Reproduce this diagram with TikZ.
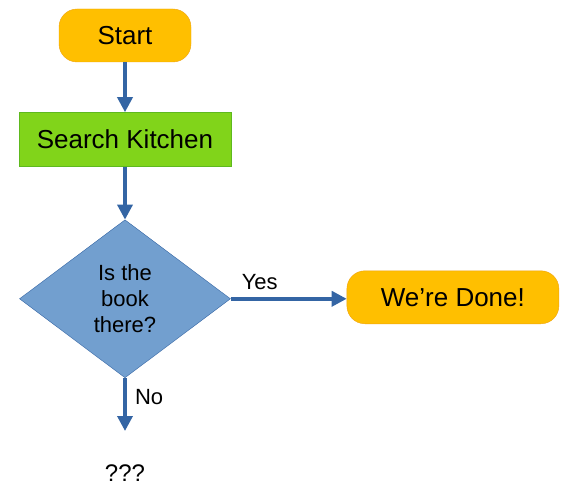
\documentclass[tikz,border=0pt]{standalone}
\usepackage{fontspec}
\setmainfont{Liberation Sans}
\usetikzlibrary{positioning}
\usetikzlibrary{shapes.geometric}
\usetikzlibrary{arrows.meta}

\definecolor{termfill}{HTML}{FFBF00}
\definecolor{termdraw}{HTML}{EFA30F}
\definecolor{procfill}{HTML}{81D41A}
\definecolor{procdraw}{HTML}{5EB91E}
\definecolor{decfill}{HTML}{729FCF}
\definecolor{flowblue}{HTML}{3465A4}

\begin{document}
\begin{tikzpicture}[
  x=1pt, y=1pt,
  % every node/.style={draw},
  terminal/.style={
    draw=termdraw,
    fill=termfill,
    rounded corners=18pt,
    minimum width=132pt,
    minimum height=53pt,
    font=\fontsize{26}{30}\selectfont
  },
  process/.style={
    draw=procdraw,
    fill=procfill,
    minimum width=212pt,
    minimum height=54pt,
    font=\fontsize{26}{30}\selectfont
  },
  decision/.style={
    diamond,
    draw=flowblue,
    fill=decfill,
    aspect=1,
    inner sep=0pt,
    minimum width=211pt,
    minimum height=158pt,
    align=center,
    font=\fontsize{22}{26}\selectfont
  },
  flow/.style={
    draw=flowblue,
    line width=3.5pt,
    -{Triangle[length=15pt,width=15pt]}
  },
  flowlabel/.style={font=\fontsize{22}{26}\selectfont}
]
\useasboundingbox (0,0) rectangle (568,-495);

% The flowchart
\node[terminal] (start) at (125,-35.5) {Start};
\node[process, below=50pt of start] (search) {Search Kitchen};
\node[decision, below=53pt of search] (check) {Is the\\book\\there?};
\node[terminal, minimum width=212pt, right=116pt of check, yshift=1.5pt] (done) {We’re Done!};
\coordinate[below=53pt of check.south] (noend);
\node[font=\fontsize{24}{28}\selectfont, below=30pt of noend] (unknown) {???};

\draw[flow] (start) -- (search);
\draw[flow] (search) -- (check);
\draw[flow] (check.east) -- node[flowlabel, above, pos=0.25, yshift=4pt] {Yes} (check.east -| done.west);
\draw[flow] (check.south) -- node[flowlabel, right, pos=0.35, xshift=5pt] {No} (noend);
\end{tikzpicture}
\end{document}
